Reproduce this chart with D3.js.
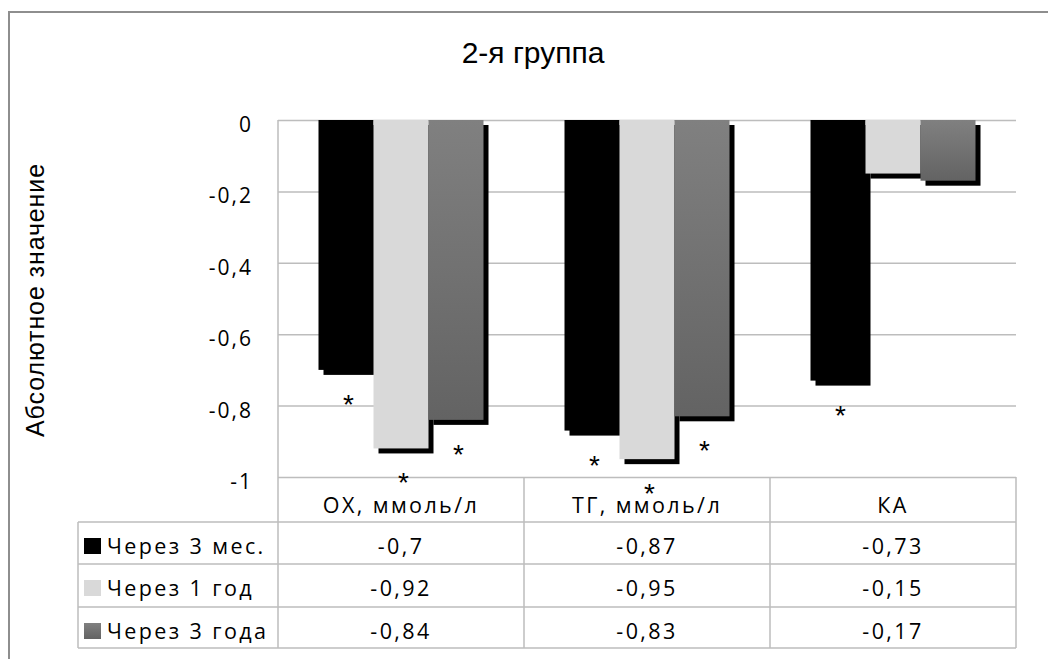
<!DOCTYPE html>
<html>
<head>
<meta charset="utf-8">
<script src="https://cdn.jsdelivr.net/npm/d3@7"></script>
<style>
  body { margin: 0; background: #fff; }
  svg { display: block; }
</style>
</head>
<body>
<div id="container"></div>
<script>
// DATA

const categories = ["ОХ, ммоль/л", "ТГ, ммоль/л", "КА"]
const seriesNames = ["Через 3 мес.", "Через 1 год", "Через 3 года"]
const after3months = [-0.7, -0.87, -0.73]
const after1year = [-0.92, -0.95, -0.15]
const after3years = [-0.84, -0.83, -0.17]
const starred3months = [true, true, true]
const starred1year = [true, true, false]
const starred3years = [true, true, false]
const yTicks = [0, -0.2, -0.4, -0.6, -0.8, -1]

const seriesValues = [after3months, after1year, after3years]
const seriesStars = [starred3months, starred1year, starred3years]

// VARIABLES

const width = 1048,
      height = 659,
      plot = {left: 278, right: 1016, top: 120, bottom: 477},
      rowTops = [477, 522, 564, 607, 648],
      tableLeft = 78,
      barWidth = 55,
      shadow = 5,
      gridColor = "#bdbdbd",
      tableFont = "'Open Sans', 'Noto Sans', sans-serif"

const fmt = v => String(v).replace(".", ",")

// SCALES

const xScale = d3.scaleBand()
    .domain(categories)
    .range([plot.left, plot.right])

const innerScale = d3.scaleBand()
    .domain(seriesNames)
    .range([0, barWidth * 3])

const bandPad = (xScale.bandwidth() - barWidth * 3) / 2

const yScale = d3.scaleLinear()
    .domain([-1, 0])
    .range([plot.bottom, plot.top])

const colorScale = d3.scaleOrdinal()
    .domain(seriesNames)
    .range(["#000000", "#d9d9d9", "url(#darkGrad)"])

// ELEMENTS

const mySVG = d3.select("#container")
    .append("svg")
    .attr("width", width)
    .attr("height", height)

const grad = mySVG.append("defs").append("linearGradient")
    .attr("id", "darkGrad")
    .attr("x1", 0).attr("y1", 0).attr("x2", 0).attr("y2", 1)
grad.append("stop").attr("offset", "0%").attr("stop-color", "#808080")
grad.append("stop").attr("offset", "100%").attr("stop-color", "#636363")

// outer frame
mySVG.append("rect")
    .attr("x", 9).attr("y", 12)
    .attr("width", 1100).attr("height", 700)
    .attr("fill", "none")
    .attr("stroke", "#8e8e8e")
    .attr("stroke-width", 2)

mySVG.append("text")
    .attr("x", 533).attr("y", 63)
    .attr("text-anchor", "middle")
    .attr("font-family", "'Liberation Sans', Arial, sans-serif")
    .attr("font-size", 30)
    .text("2-я группа")

mySVG.append("text")
    .attr("transform", "translate(44,300) rotate(-90)")
    .attr("text-anchor", "middle")
    .attr("font-family", "'Liberation Sans', Arial, sans-serif")
    .attr("font-size", 25)
    .attr("letter-spacing", 0.9)
    .text("Абсолютное значение")

// gridlines + y axis
const yAxis = d3.axisLeft(yScale)
    .tickValues(yTicks)
    .tickSize(-(plot.right - plot.left))
    .tickPadding(25)
    .tickFormat(fmt)

const yG = mySVG.append("g")
    .attr("transform", `translate(${plot.left},0)`)
    .call(yAxis)
yG.select(".domain").remove()
yG.selectAll("line").attr("stroke", gridColor).attr("stroke-width", 1.5)
yG.selectAll("text")
    .attr("font-family", tableFont)
    .attr("font-size", 21)
    .attr("letter-spacing", 2)
    .attr("fill", "#000")
    .attr("dy", "0.55em")

// SELECT-JOIN-DRAW

const groups = mySVG.selectAll("g.series")
    .data(seriesNames.map((name, i) => ({name, values: seriesValues[i], stars: seriesStars[i]})))
    .join("g")
    .attr("class", "series")

const barX = (s, j) => xScale(categories[j]) + bandPad + innerScale(s.name)

groups.each(function(s) {
  const g = d3.select(this)
  g.selectAll("rect.shadow")
      .data(s.values)
      .join("rect")
      .attr("class", "shadow")
      .attr("x", (d, j) => barX(s, j) + shadow)
      .attr("y", yScale(0) + shadow)
      .attr("width", barWidth)
      .attr("height", d => yScale(d) - yScale(0))
      .attr("fill", "#000")
  g.selectAll("rect.bar")
      .data(s.values)
      .join("rect")
      .attr("class", "bar")
      .attr("x", (d, j) => barX(s, j))
      .attr("y", yScale(0))
      .attr("width", barWidth)
      .attr("height", d => yScale(d) - yScale(0))
      .attr("fill", colorScale(s.name))
})

// significance stars
groups.each(function(s) {
  d3.select(this).selectAll("text.star")
      .data(s.values.map((v, j) => ({v, j})).filter(d => s.stars[d.j]))
      .join("text")
      .attr("class", "star")
      .attr("x", d => barX(s, d.j) + barWidth / 2 + 2.5)
      .attr("y", d => yScale(d.v) + 44)
      .attr("text-anchor", "middle")
      .attr("font-family", "'Liberation Sans', Arial, sans-serif")
      .attr("font-size", 28)
      .text("*")
})

// data table
const lines = mySVG.append("g")
    .attr("stroke", gridColor)
    .attr("stroke-width", 1.5)

rowTops.slice(1).forEach(y => {
  lines.append("line").attr("x1", tableLeft).attr("x2", plot.right).attr("y1", y).attr("y2", y)
})
lines.append("line").attr("x1", tableLeft).attr("x2", tableLeft).attr("y1", rowTops[1]).attr("y2", rowTops[4])
lines.append("line").attr("x1", plot.left).attr("x2", plot.left).attr("y1", plot.top).attr("y2", rowTops[4])
categories.forEach(c => {
  const x = xScale(c) + xScale.bandwidth()
  lines.append("line").attr("x1", x).attr("x2", x).attr("y1", rowTops[0]).attr("y2", rowTops[4])
})

const table = mySVG.append("g")
    .attr("font-family", tableFont)
    .attr("font-size", 21.5)
    .attr("letter-spacing", 2.4)

table.selectAll("text.cat")
    .data(categories)
    .join("text")
    .attr("class", "cat")
    .attr("x", d => xScale(d) + xScale.bandwidth() / 2)
    .attr("y", rowTops[0] + 36)
    .attr("text-anchor", "middle")
    .text(d => d)

seriesNames.forEach((name, i) => {
  const top = rowTops[i + 1]
  table.append("rect")
      .attr("x", 84).attr("y", top + 16)
      .attr("width", 17).attr("height", 16)
      .attr("fill", colorScale(name))
  table.append("text")
      .attr("x", 107).attr("y", top + 32)
      .text(name)
  table.selectAll(null)
      .data(seriesValues[i])
      .join("text")
      .attr("x", (d, j) => xScale(categories[j]) + xScale.bandwidth() / 2)
      .attr("y", top + 32)
      .attr("text-anchor", "middle")
      .text(d => fmt(d))
})
</script>
</body>
</html>
